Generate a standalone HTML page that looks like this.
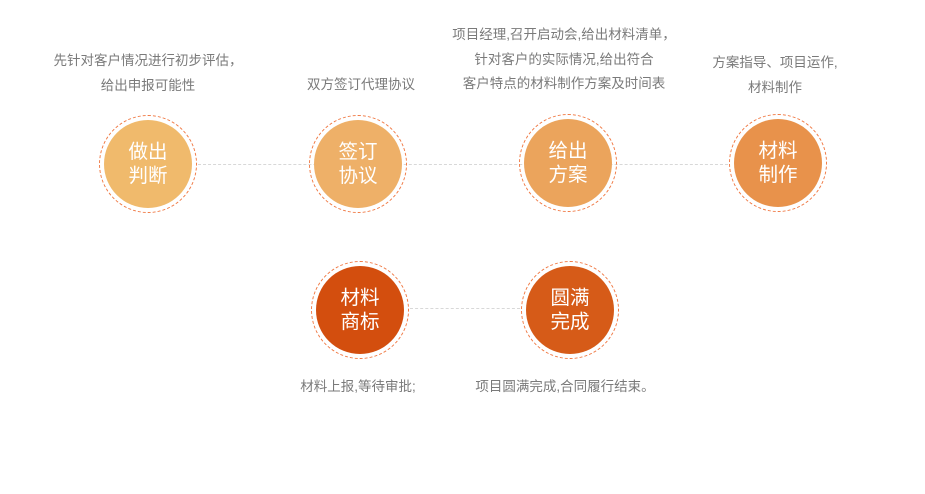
<!DOCTYPE html>
<html><head><meta charset="utf-8"><style>
body{margin:0;width:925px;height:494px;background:#fff;position:relative;overflow:hidden;font-family:"Liberation Sans","Noto Sans CJK SC",sans-serif}
.t{position:absolute;color:#7a7a7a;font-size:13.5px;line-height:24.5px;text-align:center;white-space:nowrap;transform:translateX(-50%)}
.c{position:absolute;width:96px;height:96px;border:1.3px dashed #f07a45;border-radius:50%;transform:translate(-50%,-50%)}
.c div{position:absolute;left:4px;top:4px;width:88px;height:88px;border-radius:50%;color:#fff;font-size:19.5px;line-height:24px;display:flex;align-items:center;justify-content:center;text-align:center}
.l{position:absolute;border-top:1px dashed #d8d8d8;height:0}
</style></head><body>
<div class="l" style="left:198px;width:530px;top:164px"></div>
<div class="l" style="left:410px;width:110px;top:308px"></div>
<div class="t" style="left:148px;top:49px">先针对客户情况进行初步评估，<br>给出申报可能性</div>
<div class="t" style="left:361px;top:73px">双方签订代理协议</div>
<div class="t" style="left:564px;top:23px">项目经理,召开启动会,给出材料清单，<br>针对客户的实际情况,给出符合<br>客户特点的材料制作方案及时间表</div>
<div class="t" style="left:775px;top:51px">方案指导、项目运作,<br>材料制作</div>
<div class="t" style="left:358px;top:375px">材料上报,等待审批;</div>
<div class="t" style="left:565px;top:375px">项目圆满完成,合同履行结束。</div>
<div class="c" style="left:148px;top:164px"><div style="background:#f0ba6c">做出<br>判断</div></div>
<div class="c" style="left:358px;top:164px"><div style="background:#eeb068">签订<br>协议</div></div>
<div class="c" style="left:568px;top:163px"><div style="background:#eba45c">给出<br>方案</div></div>
<div class="c" style="left:778px;top:163px"><div style="background:#e8924b">材料<br>制作</div></div>
<div class="c" style="left:360px;top:310px"><div style="background:#d34e0e">材料<br>商标</div></div>
<div class="c" style="left:570px;top:310px"><div style="background:#d65b18">圆满<br>完成</div></div>
</body></html>
